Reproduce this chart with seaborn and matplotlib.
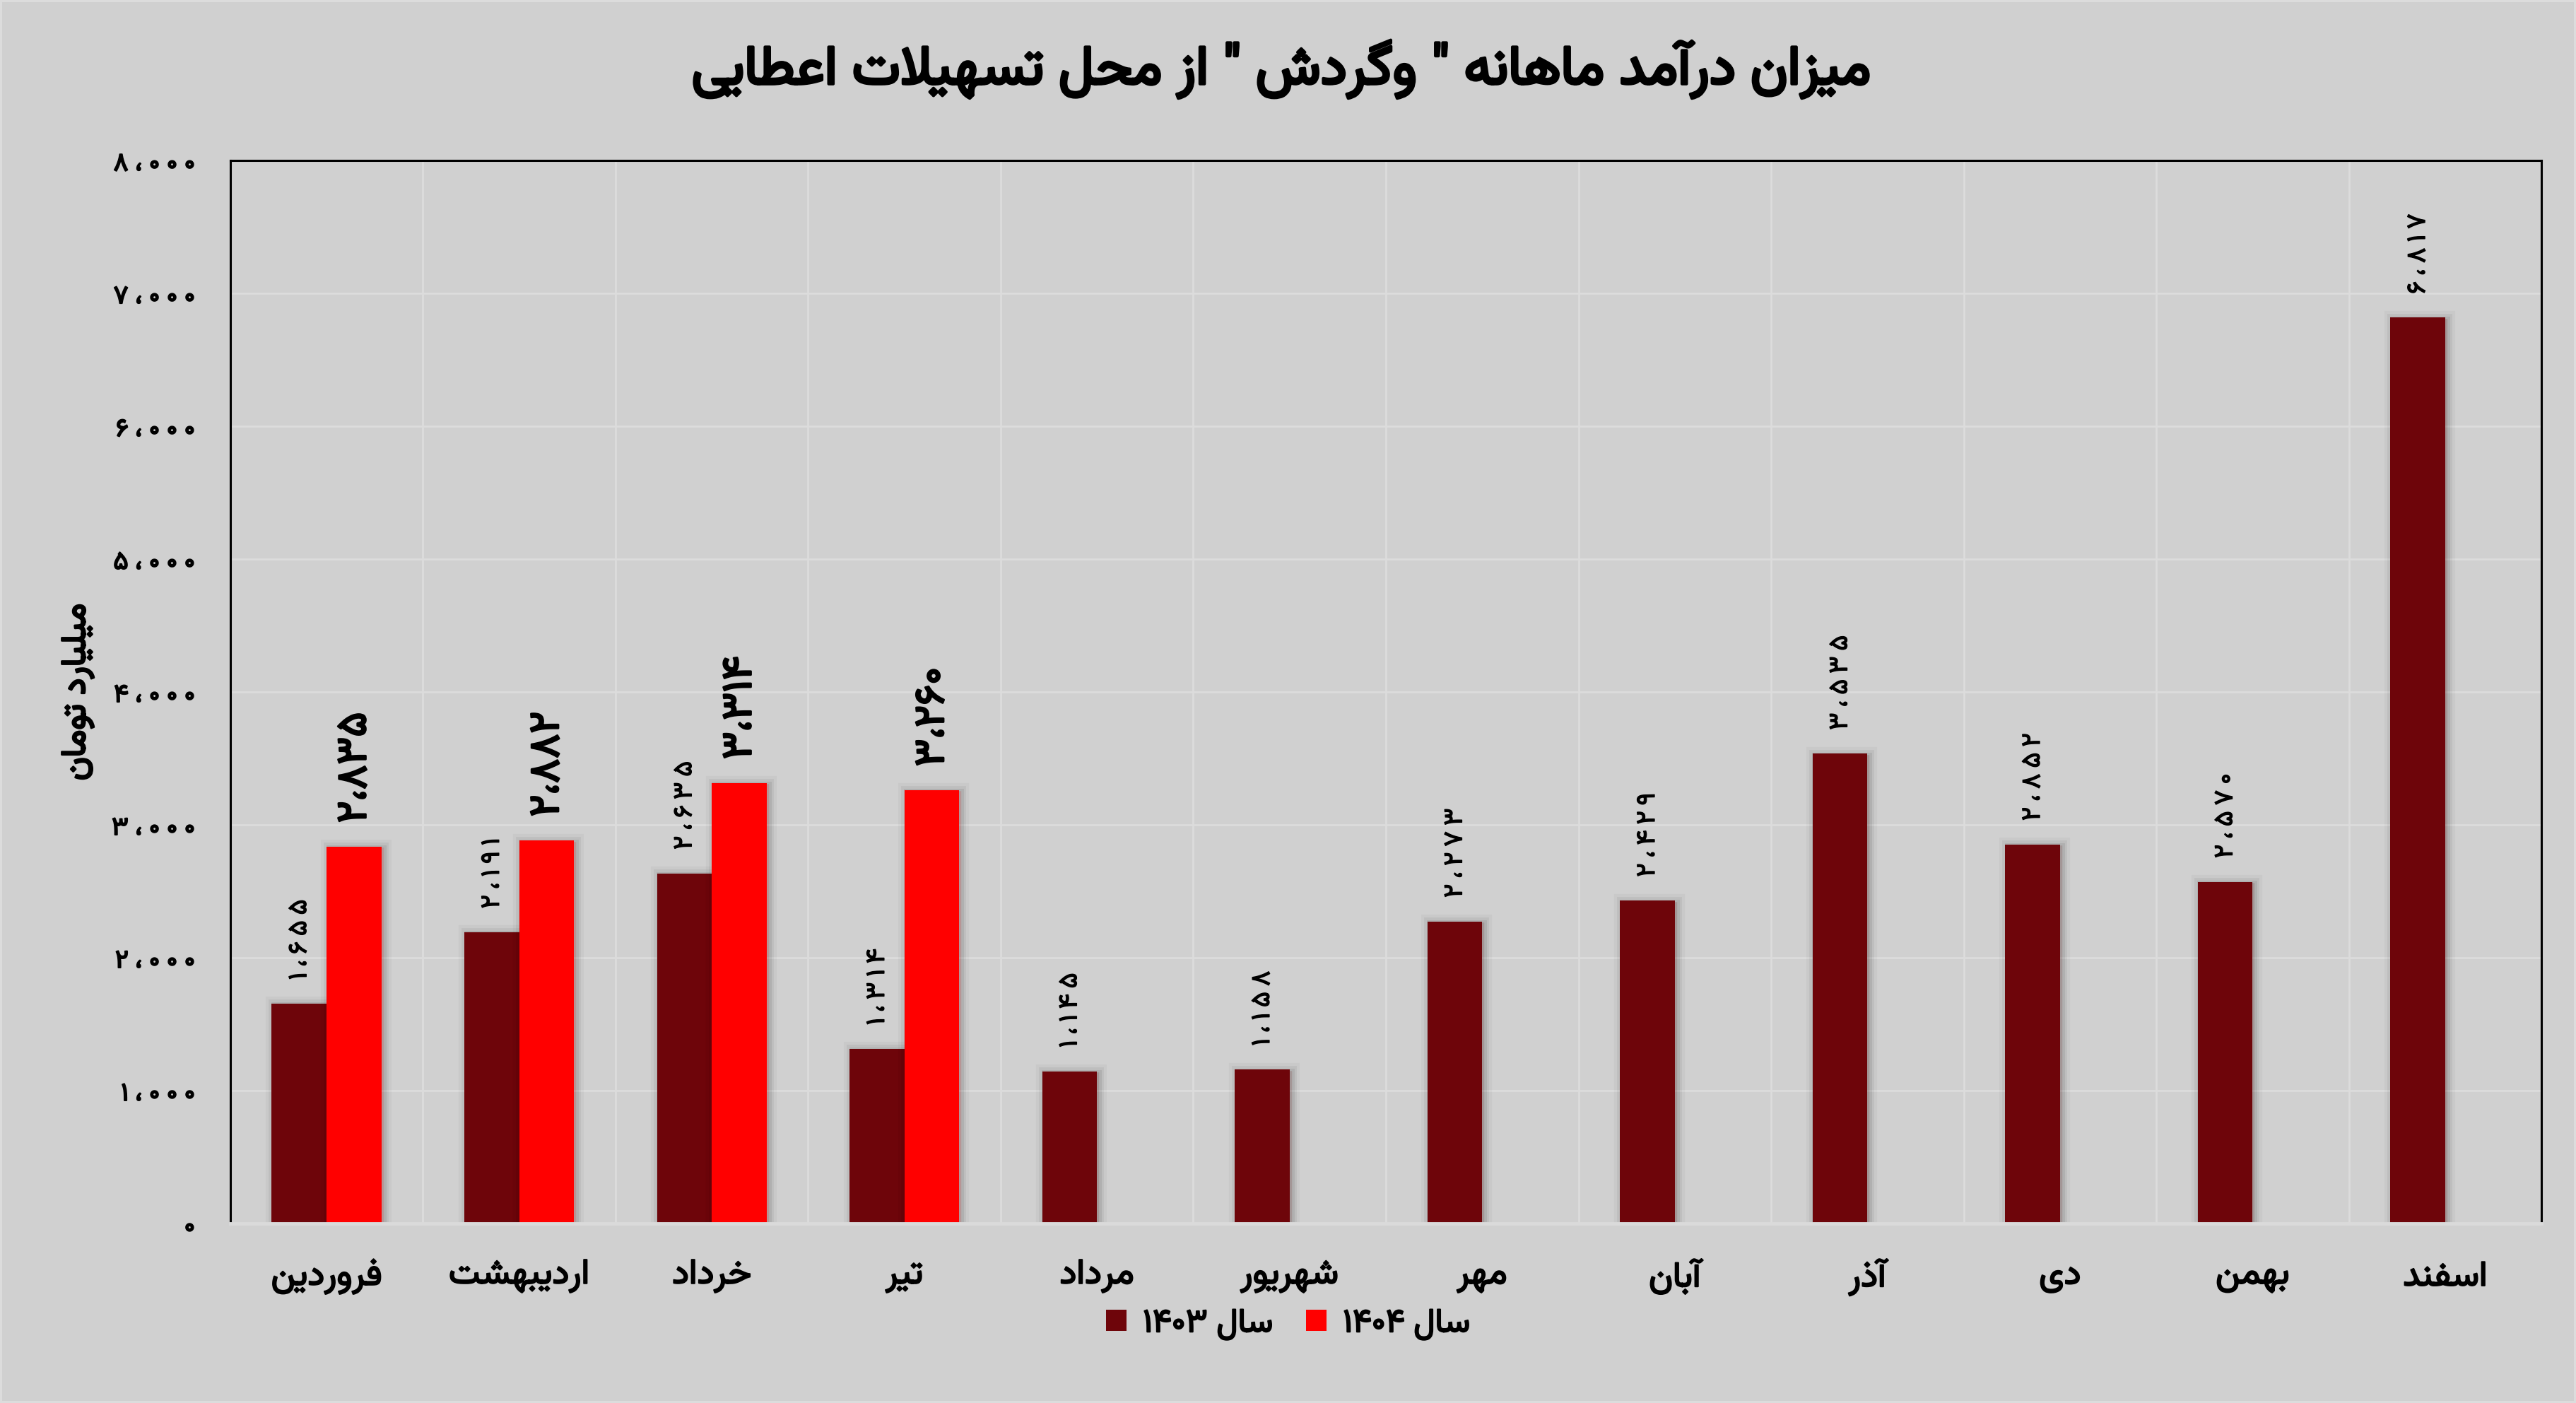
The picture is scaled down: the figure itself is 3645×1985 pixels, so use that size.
import re
import unicodedata
import numpy as np
import pandas as pd
import seaborn as sns
import matplotlib
matplotlib.use('Agg')
import matplotlib.pyplot as plt
import matplotlib.patheffects as pe
from matplotlib import font_manager as fm

# data
months = ['فروردین', 'اردیبهشت', 'خرداد', 'تیر', 'مرداد', 'شهریور',
          'مهر', 'آبان', 'آذر', 'دی', 'بهمن', 'اسفند']
years = ['سال ۱۴۰۳', 'سال ۱۴۰۴']
income_1403 = [1655, 2191, 2635, 1314, 1145, 1158, 2273, 2429, 3535, 2852, 2570, 6817]
income_1404 = [2835, 2882, 3314, 3260, None, None, None, None, None, None, None, None]
y_ticks = [0, 1000, 2000, 3000, 4000, 5000, 6000, 7000, 8000]
title = 'میزان درآمد ماهانه " وگردش " از محل تسهیلات اعطایی'
y_title = 'میلیارد تومان'

DARK = '#6e050a'
RED = '#ff0000'
BG = '#d0d0d0'
GRID = '#dcdcdc'

# pick a font with arabic glyphs
names = {f.name for f in fm.fontManager.ttflist}
FONT = next((n for n in ['Vazirmatn', 'Noto Sans Arabic', 'Noto Naskh Arabic']
             if n in names), 'DejaVu Sans')
plt.rcParams['font.family'] = [FONT, 'DejaVu Sans']
plt.rcParams['font.weight'] = 'bold'


def build_forms():
    """Arabic presentation forms from the unicode decompositions"""
    forms, ligs = {}, {}
    for cp in list(range(0xFB50, 0xFDFF)) + list(range(0xFE70, 0xFEFF)):
        parts = unicodedata.decomposition(chr(cp)).split()
        if len(parts) < 2 or parts[0] not in ('<isolated>', '<final>', '<initial>', '<medial>'):
            continue
        tag = parts[0][1:-1]
        base = ''.join(chr(int(p, 16)) for p in parts[1:])
        if len(base) == 1:
            forms.setdefault(base, {}).setdefault(tag, chr(cp))
        elif len(base) == 2 and base[0] == '\u0644' and base[1] in '\u0622\u0623\u0625\u0627':
            ligs.setdefault(base, {})[tag] = chr(cp)
    return forms, ligs


FORMS, LIGS = build_forms()
DIGITS = '0123456789۰۱۲۳۴۵۶۷۸۹'


def joins_prev(u):
    return u in LIGS or 'final' in FORMS.get(u, {})


def joins_next(u):
    return u not in LIGS and 'initial' in FORMS.get(u, {})


def shape(text):
    """Join persian letters and put them in visual (left to right) order"""
    units, i = [], 0
    while i < len(text):
        if text[i:i + 2] in LIGS:
            units.append(text[i:i + 2])
            i += 2
        else:
            units.append(text[i])
            i += 1
    out = []
    for k, u in enumerate(units):
        p = k > 0 and joins_next(units[k - 1]) and joins_prev(u)
        n = k + 1 < len(units) and joins_prev(units[k + 1]) and joins_next(u)
        tag = 'medial' if p and n else 'final' if p else 'initial' if n else 'isolated'
        table = LIGS.get(u) or FORMS.get(u)
        out.append(table.get(tag, table.get('isolated', u)) if table else u)
    glyphs = ''.join(out)
    runs = re.findall(r'[0-9۰-۹][0-9۰-۹،,]*[0-9۰-۹]|[0-9۰-۹]|[^0-9۰-۹]+', glyphs)
    return ''.join(r if r[0] in DIGITS else r[::-1] for r in reversed(runs))


def fa_num(v):
    return f'{int(v):,}'.translate(str.maketrans('0123456789,', '۰۱۲۳۴۵۶۷۸۹،'))


def heavy(w):
    # fake a heavier weight, dejavu's arabic bold is rather light
    return [pe.withStroke(linewidth=w, foreground='black')]


df = pd.DataFrame({'month': months * 2,
                   'year': [years[0]] * 12 + [years[1]] * 12,
                   'value': income_1403 + income_1404})

fig, ax = plt.subplots(figsize=(36.45, 19.85), dpi=100)
fig.patch.set_facecolor(BG)
fig.patch.set_edgecolor('#dcdcdc')
fig.patch.set_linewidth(4)
ax.set_facecolor(BG)
fig.subplots_adjust(left=0.0894, right=0.9866, bottom=0.128, top=0.8856)

sns.barplot(data=df, x='month', y='value', hue='year', order=months, hue_order=years,
            palette=[DARK, RED], width=0.57, saturation=1, ax=ax, zorder=3)

# soft shadow round the bars
shadow = [pe.Stroke(linewidth=w, foreground='black', alpha=a, offset=(2, -1))
          for w, a in [(16, 0.03), (10, 0.05), (5, 0.07)]] + [pe.Normal()]
for bar in ax.patches:
    bar.set_path_effects(shadow)

# value labels (1403 ones are letter spaced)
label_style = [(27, 'normal', 1.0, '\u2009'), (43, 'bold', 2.0, '')]
for container, (size, weight, stroke, sep) in zip(ax.containers, label_style):
    for bar in container:
        h = bar.get_height()
        if np.isnan(h):
            continue
        ax.annotate(sep.join(fa_num(h)), (bar.get_x() + bar.get_width() / 2, h),
                    xytext=(0, 24), textcoords='offset points', rotation=90,
                    ha='center', va='bottom', fontsize=size, fontweight=weight,
                    path_effects=heavy(stroke))

ax.set_ylim(0, 8000)
ax.set_xlim(-0.5, 11.5)
ax.set_yticks(y_ticks, [' '.join(fa_num(v)) for v in y_ticks], fontsize=26)
ax.set_xticks(range(12), [shape(m) for m in months], fontsize=36)
ax.set_xticks(np.arange(-0.5, 12, 1), minor=True)
ax.tick_params(which='both', length=0)
ax.tick_params(axis='y', pad=36)
ax.tick_params(axis='x', pad=36)
for lbl in ax.get_xticklabels() + ax.get_yticklabels():
    lbl.set_path_effects(heavy(1.5))
ax.set_axisbelow(True)
ax.grid(axis='y', which='major', color=GRID, linewidth=2)
ax.grid(axis='x', which='minor', color=GRID, linewidth=2)

ax.set_xlabel('')
ax.set_ylabel(shape(y_title), fontsize=35, path_effects=heavy(2))
ax.yaxis.set_label_coords(-0.059, 0.5)

for side in ['top', 'left', 'right']:
    ax.spines[side].set_color('black')
    ax.spines[side].set_linewidth(2.2)
ax.spines['bottom'].set_color('#dadada')
ax.spines['bottom'].set_linewidth(3.5)
ax.spines['bottom'].set_zorder(4)

fig.text(0.4975, 0.9506, shape(title), ha='center', va='center', fontsize=56,
         path_effects=heavy(3))

handles, _ = ax.get_legend_handles_labels()
ax.get_legend().remove()
leg = fig.legend(handles, [shape(y) for y in years], loc='center', bbox_to_anchor=(0.5, 0.057),
                 ncol=2, frameon=False, fontsize=34, handlelength=0.6, handleheight=0.6,
                 handletextpad=0.5, columnspacing=1.0)
for t in leg.get_texts():
    t.set_path_effects(heavy(1.5))
for h in leg.legend_handles:
    h.set_path_effects([])

fig.savefig('out.png', dpi=100, facecolor=fig.get_facecolor())
